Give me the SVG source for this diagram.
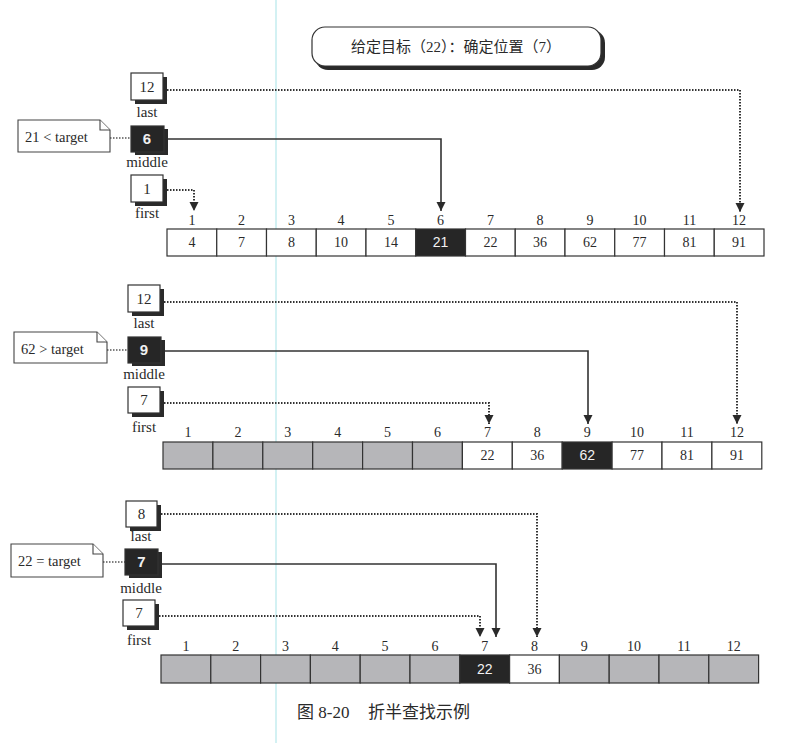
<svg xmlns="http://www.w3.org/2000/svg" width="796" height="743" viewBox="0 0 796 743">
<style>
text{font-family:"Liberation Serif","Noto Sans CJK SC",serif;fill:#2a2a2a}
.lbl{font-size:15px;text-anchor:middle}
.idx{font-size:14px;text-anchor:middle}
.val{font-size:14px;text-anchor:middle}
.valw{font-size:14px;text-anchor:middle;font-family:"Liberation Sans",sans-serif;fill:#f2f2f2}
.bw{font-size:15px;text-anchor:middle;font-family:"Liberation Sans",sans-serif;font-weight:bold;fill:#f0f0f0}
.bn{font-size:15px;text-anchor:middle}
.note{font-size:14.5px}
.cap{font-size:17px}
.cw{fill:#fff;stroke:#333;stroke-width:1.2}
.cg{fill:#b6b6b9;stroke:#333;stroke-width:1.2}
.cb{fill:#262626;stroke:#333;stroke-width:1.2}
.bx{fill:#fff;stroke:#333;stroke-width:1.2}
.bxd{fill:#262626;stroke:#333;stroke-width:1.2}
.sh{fill:#2a2a2a}
.nt{fill:#fff;stroke:#444;stroke-width:1.1}
.dot{fill:none;stroke:#333;stroke-width:2;stroke-dasharray:1.5 1.5}
.sol{fill:none;stroke:#333;stroke-width:1.6}
.nd{fill:none;stroke:#555;stroke-width:1.3;stroke-dasharray:1.5 1.5}
</style>
<defs>
<marker id="ah" viewBox="0 0 10 10" refX="10" refY="5" markerWidth="9" markerHeight="10" markerUnits="userSpaceOnUse" orient="auto">
<path d="M0,0 L10,5 L0,10 z" fill="#2a2a2a"/>
</marker>
</defs>
<rect width="796" height="743" fill="#fff"/>
<line x1="276" y1="0" x2="276" y2="743" stroke="#c4ecef" stroke-width="1.5"/>

<g id="title">
<rect x="315" y="30" width="290" height="40" rx="13" class="sh"/>
<rect x="312" y="27" width="289" height="39" rx="13" fill="#fff" stroke="#333" stroke-width="1.2"/>
<text x="456" y="52" style="font-size:15px;text-anchor:middle">给定目标（22）：确定位置（7）</text>
</g>

<g id="connectors">
<path class="dot" d="M167,90 H740 V212" marker-end="url(#ah)"/>
<path class="sol" d="M167,139 H441 V211" marker-end="url(#ah)"/>
<path class="dot" d="M167,190 H194 V211" marker-end="url(#ah)"/>
<path class="nd" d="M110,138 H131"/>
<path class="dot" d="M164,302 H737 V424" marker-end="url(#ah)"/>
<path class="sol" d="M165,351 H588 V424" marker-end="url(#ah)"/>
<path class="dot" d="M164,403 H489 V424" marker-end="url(#ah)"/>
<path class="nd" d="M107,350 H128"/>
<path class="dot" d="M161,514 H537 V637" marker-end="url(#ah)"/>
<path class="sol" d="M162,564 H496 V637" marker-end="url(#ah)"/>
<path class="dot" d="M159,616 H480 V637" marker-end="url(#ah)"/>
<path class="nd" d="M103,562 H125"/>
</g>

<!-- Step 1 -->
<g id="s1-last">
<rect x="135" y="77" width="32" height="27" class="sh"/>
<rect x="131" y="73" width="32" height="27" class="bx"/>
<text x="147" y="92" class="bn">12</text>
<text x="147" y="117" class="lbl">last</text>
</g>
<g id="s1-middle">
<rect x="135" y="129" width="33" height="26" class="sh"/>
<rect x="131" y="126" width="33" height="26" class="bxd"/>
<text x="147" y="144" class="bw">6</text>
<text x="147" y="167" class="lbl">middle</text>
</g>
<g id="s1-first">
<rect x="135" y="179" width="32" height="27" class="sh"/>
<rect x="131" y="175" width="32" height="27" class="bx"/>
<text x="147" y="194" class="bn">1</text>
<text x="147" y="218" class="lbl">first</text>
</g>
<g id="s1-note">
<path class="nt" d="M18,120 H100 L110,130 V152 H18 Z"/>
<path class="nt" d="M100,120 V130 H110"/>
<text x="25" y="142" class="note">21 &lt; target</text>
</g>
<g id="s1-array">
<rect x="167" y="229" width="49.75" height="27" class="cw"/>
<rect x="216.75" y="229" width="49.75" height="27" class="cw"/>
<rect x="266.5" y="229" width="49.75" height="27" class="cw"/>
<rect x="316.25" y="229" width="49.75" height="27" class="cw"/>
<rect x="366" y="229" width="49.75" height="27" class="cw"/>
<rect x="415.75" y="229" width="49.75" height="27" class="cb"/>
<rect x="465.5" y="229" width="49.75" height="27" class="cw"/>
<rect x="515.25" y="229" width="49.75" height="27" class="cw"/>
<rect x="565" y="229" width="49.75" height="27" class="cw"/>
<rect x="614.75" y="229" width="49.75" height="27" class="cw"/>
<rect x="664.5" y="229" width="49.75" height="27" class="cw"/>
<rect x="714.25" y="229" width="49.75" height="27" class="cw"/>
<text x="192" y="247" class="val">4</text>
<text x="241.6" y="247" class="val">7</text>
<text x="291.4" y="247" class="val">8</text>
<text x="341.1" y="247" class="val">10</text>
<text x="390.9" y="247" class="val">14</text>
<text x="440.6" y="247" class="valw">21</text>
<text x="490.4" y="247" class="val">22</text>
<text x="540.1" y="247" class="val">36</text>
<text x="589.9" y="247" class="val">62</text>
<text x="639.6" y="247" class="val">77</text>
<text x="689.4" y="247" class="val">81</text>
<text x="739.1" y="247" class="val">91</text>
<text x="192" y="225" class="idx">1</text>
<text x="241.6" y="225" class="idx">2</text>
<text x="291.4" y="225" class="idx">3</text>
<text x="341.1" y="225" class="idx">4</text>
<text x="390.9" y="225" class="idx">5</text>
<text x="440.6" y="225" class="idx">6</text>
<text x="490.4" y="225" class="idx">7</text>
<text x="540.1" y="225" class="idx">8</text>
<text x="589.9" y="225" class="idx">9</text>
<text x="639.6" y="225" class="idx">10</text>
<text x="689.4" y="225" class="idx">11</text>
<text x="739.1" y="225" class="idx">12</text>
</g>

<!-- Step 2 -->
<g id="s2-last">
<rect x="132" y="289" width="32" height="27" class="sh"/>
<rect x="128" y="285" width="32" height="27" class="bx"/>
<text x="144" y="304" class="bn">12</text>
<text x="144" y="328" class="lbl">last</text>
</g>
<g id="s2-middle">
<rect x="132" y="340" width="33" height="26" class="sh"/>
<rect x="128" y="337" width="33" height="26" class="bxd"/>
<text x="144" y="355" class="bw">9</text>
<text x="144" y="379" class="lbl">middle</text>
</g>
<g id="s2-first">
<rect x="132" y="391" width="32" height="26" class="sh"/>
<rect x="128" y="387" width="32" height="26" class="bx"/>
<text x="144" y="405" class="bn">7</text>
<text x="144" y="432" class="lbl">first</text>
</g>
<g id="s2-note">
<path class="nt" d="M14,332 H97 L107,342 V363 H14 Z"/>
<path class="nt" d="M97,332 V342 H107"/>
<text x="21" y="354" class="note">62 &gt; target</text>
</g>
<g id="s2-array">
<rect x="163" y="442" width="49.9" height="27" class="cg"/>
<rect x="212.9" y="442" width="49.9" height="27" class="cg"/>
<rect x="262.8" y="442" width="49.9" height="27" class="cg"/>
<rect x="312.7" y="442" width="49.9" height="27" class="cg"/>
<rect x="362.6" y="442" width="49.9" height="27" class="cg"/>
<rect x="412.5" y="442" width="49.9" height="27" class="cg"/>
<rect x="462.4" y="442" width="49.9" height="27" class="cw"/>
<rect x="512.3" y="442" width="49.9" height="27" class="cw"/>
<rect x="562.2" y="442" width="49.9" height="27" class="cb"/>
<rect x="612.1" y="442" width="49.9" height="27" class="cw"/>
<rect x="662" y="442" width="49.9" height="27" class="cw"/>
<rect x="711.9" y="442" width="49.9" height="27" class="cw"/>
<text x="487.4" y="460" class="val">22</text>
<text x="537.3" y="460" class="val">36</text>
<text x="587.2" y="460" class="valw">62</text>
<text x="637.1" y="460" class="val">77</text>
<text x="687" y="460" class="val">81</text>
<text x="736.9" y="460" class="val">91</text>
<text x="188" y="437" class="idx">1</text>
<text x="237.9" y="437" class="idx">2</text>
<text x="287.8" y="437" class="idx">3</text>
<text x="337.7" y="437" class="idx">4</text>
<text x="387.6" y="437" class="idx">5</text>
<text x="437.5" y="437" class="idx">6</text>
<text x="487.4" y="437" class="idx">7</text>
<text x="537.3" y="437" class="idx">8</text>
<text x="587.2" y="437" class="idx">9</text>
<text x="637.1" y="437" class="idx">10</text>
<text x="687" y="437" class="idx">11</text>
<text x="736.9" y="437" class="idx">12</text>
</g>

<!-- Step 3 -->
<g id="s3-last">
<rect x="130" y="505" width="31" height="26" class="sh"/>
<rect x="126" y="501" width="31" height="26" class="bx"/>
<text x="141.5" y="519" class="bn">8</text>
<text x="141" y="541" class="lbl">last</text>
</g>
<g id="s3-middle">
<rect x="129" y="552" width="33" height="26" class="sh"/>
<rect x="125" y="549" width="33" height="26" class="bxd"/>
<text x="141.5" y="567" class="bw">7</text>
<text x="141" y="593" class="lbl">middle</text>
</g>
<g id="s3-first">
<rect x="127" y="604" width="32" height="26" class="sh"/>
<rect x="123" y="600" width="32" height="26" class="bx"/>
<text x="139" y="618" class="bn">7</text>
<text x="139" y="645" class="lbl">first</text>
</g>
<g id="s3-note">
<path class="nt" d="M11,544 H93 L103,554 V577 H11 Z"/>
<path class="nt" d="M93,544 V554 H103"/>
<text x="18" y="566" class="note">22 = target</text>
</g>
<g id="s3-array">
<rect x="161" y="655" width="49.8" height="28" class="cg"/>
<rect x="210.8" y="655" width="49.8" height="28" class="cg"/>
<rect x="260.6" y="655" width="49.8" height="28" class="cg"/>
<rect x="310.4" y="655" width="49.8" height="28" class="cg"/>
<rect x="360.2" y="655" width="49.8" height="28" class="cg"/>
<rect x="410" y="655" width="49.8" height="28" class="cg"/>
<rect x="459.8" y="655" width="49.8" height="28" class="cb"/>
<rect x="509.6" y="655" width="49.8" height="28" class="cw"/>
<rect x="559.4" y="655" width="49.8" height="28" class="cg"/>
<rect x="609.2" y="655" width="49.8" height="28" class="cg"/>
<rect x="659" y="655" width="49.8" height="28" class="cg"/>
<rect x="708.8" y="655" width="49.8" height="28" class="cg"/>
<text x="484.7" y="674" class="valw">22</text>
<text x="534.5" y="674" class="val">36</text>
<text x="185.9" y="651" class="idx">1</text>
<text x="235.7" y="651" class="idx">2</text>
<text x="285.5" y="651" class="idx">3</text>
<text x="335.3" y="651" class="idx">4</text>
<text x="385.1" y="651" class="idx">5</text>
<text x="434.9" y="651" class="idx">6</text>
<text x="484.7" y="651" class="idx">7</text>
<text x="534.5" y="651" class="idx">8</text>
<text x="584.3" y="651" class="idx">9</text>
<text x="634.1" y="651" class="idx">10</text>
<text x="683.9" y="651" class="idx">11</text>
<text x="733.7" y="651" class="idx">12</text>
</g>

<g id="caption">
<text x="297" y="718" class="cap">图 8-20</text>
<text x="368" y="718" class="cap">折半查找示例</text>
</g>
</svg>
